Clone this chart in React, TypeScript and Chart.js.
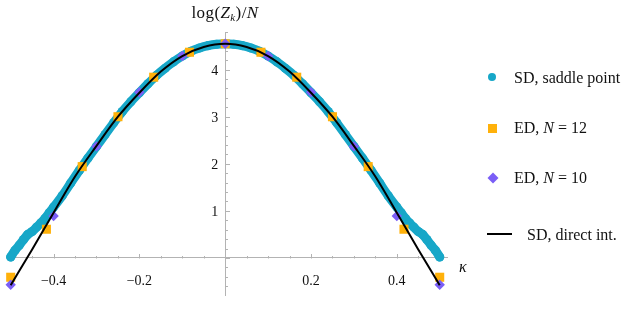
import React, { useEffect, useRef } from "react";
import { Chart, registerables } from "chart.js";

Chart.register(...registerables);

// ---- data ----
const SD_SADDLE_K = [
  -0.5, -0.49, -0.48, -0.47, -0.46, -0.45, -0.44, -0.43, -0.42, -0.41, -0.4,
  -0.38, -0.36, -0.34, -0.32, -0.3, -0.28, -0.26, -0.24, -0.22, -0.2, -0.18,
  -0.16, -0.14, -0.12, -0.1, -0.08, -0.06, -0.04, -0.02, 0, 0.02, 0.04, 0.06,
  0.08, 0.1, 0.12, 0.14, 0.16, 0.18, 0.2, 0.22, 0.24, 0.26, 0.28, 0.3, 0.32,
  0.34, 0.36, 0.38, 0.4, 0.41, 0.42, 0.43, 0.44, 0.45, 0.46, 0.47, 0.48, 0.49,
  0.5,
];
const SD_SADDLE_V = [
  0.02, 0.16, 0.27, 0.39, 0.5, 0.56, 0.65, 0.74, 0.84, 0.96, 1.08, 1.32, 1.59,
  1.86, 2.12, 2.37, 2.62, 2.87, 3.11, 3.32, 3.51, 3.7, 3.88, 4.03, 4.17, 4.29,
  4.39, 4.46, 4.51, 4.54, 4.55, 4.54, 4.51, 4.46, 4.39, 4.29, 4.17, 4.03, 3.88,
  3.7, 3.51, 3.32, 3.11, 2.87, 2.62, 2.37, 2.12, 1.86, 1.59, 1.32, 1.08, 0.96,
  0.84, 0.74, 0.65, 0.56, 0.5, 0.39, 0.27, 0.16, 0.02,
];

const ED12_K = [
  -0.5, -0.4167, -0.3333, -0.25, -0.1667, -0.0833, 0, 0.0833, 0.1667, 0.25,
  0.3333, 0.4167, 0.5,
];
const ED12_V = [
  -0.41, 0.61, 1.94, 3.0, 3.84, 4.37, 4.55, 4.37, 3.84, 3.0, 1.94, 0.61, -0.41,
];

const ED10_K = [-0.5, -0.4, -0.3, -0.2, -0.1, 0, 0.1, 0.2, 0.3, 0.4, 0.5];
const ED10_V = [-0.57, 0.89, 2.37, 3.52, 4.29, 4.55, 4.29, 3.52, 2.37, 0.89, -0.57];

const SD_DIRECT_K = [
  -0.5, -0.45, -0.4, -0.35, -0.3, -0.25, -0.2, -0.15, -0.1, -0.05, 0, 0.05, 0.1,
  0.15, 0.2, 0.25, 0.3, 0.35, 0.4, 0.45, 0.5,
];
const SD_DIRECT_V = [
  -0.58, 0.18, 0.96, 1.73, 2.38, 3.0, 3.51, 3.96, 4.29, 4.48, 4.55, 4.48, 4.29,
  3.96, 3.51, 3.0, 2.38, 1.73, 0.96, 0.18, -0.58,
];

const X_TICK_LABELS = [-0.4, -0.2, 0.2, 0.4];
const Y_TICK_LABELS = [1, 2, 3, 4];
const X_MINOR_STEP = 0.05;
const Y_MINOR_STEP = 0.2;

// ---- styles ----
const CYAN = "#17a7c8";
const ORANGE = "#ffb10a";
const PURPLE = "#7a5ef6";
const AXIS = "#b3b3b3";
const FONT = "'Liberation Serif', 'DejaVu Serif', serif";

const zip = (k: number[], v: number[]) => k.map((x, i) => ({ x, y: v[i] }));

const fmt = (v: number) =>
  v < 0 ? "\u2212" + Math.abs(v).toFixed(1) : v.toFixed(1);

const tickMarks = {
  id: "tickMarks",
  beforeDatasetsDraw(chart: any) {
    const { ctx } = chart;
    const xs = chart.scales.x;
    const ys = chart.scales.y;
    const x0 = Math.round(xs.getPixelForValue(0)) + 0.5;
    const y0 = Math.round(ys.getPixelForValue(0)) + 0.5;
    ctx.save();
    ctx.strokeStyle = AXIS;
    ctx.lineWidth = 1;
    ctx.beginPath();
    for (let i = -12; i <= 12; i++) {
      const v = i * X_MINOR_STEP;
      const px = Math.round(xs.getPixelForValue(v)) + 0.5;
      if (px < xs.left || px > xs.right) continue;
      const len = i % 4 === 0 ? 4.5 : 2.5;
      ctx.moveTo(px, y0);
      ctx.lineTo(px, y0 - len);
    }
    for (let i = -5; i <= 25; i++) {
      const v = i * Y_MINOR_STEP;
      const py = Math.round(ys.getPixelForValue(v)) + 0.5;
      if (py < ys.top - 0.6 || py > ys.bottom + 0.6) continue;
      const len = i % 5 === 0 ? 4.5 : 2.5;
      ctx.moveTo(x0, py);
      ctx.lineTo(x0 + len, py);
    }
    ctx.stroke();
    ctx.restore();
  },
};

export default function App() {
  const ref = useRef<HTMLCanvasElement | null>(null);

  useEffect(() => {
    if (!ref.current) return;
    const chart = new Chart(ref.current, {
      type: "scatter",
      data: {
        datasets: [
          {
            label: "SD, direct int.",
            data: zip(SD_DIRECT_K, SD_DIRECT_V),
            showLine: true,
            borderColor: "#000",
            borderWidth: 2,
            pointRadius: 0,
            cubicInterpolationMode: "monotone",
            order: 0,
          },
          {
            label: "ED, N = 10",
            data: zip(ED10_K, ED10_V),
            pointStyle: "rectRot",
            pointRadius: 5.2,
            backgroundColor: PURPLE,
            borderWidth: 0,
            order: 1,
          },
          {
            label: "ED, N = 12",
            data: zip(ED12_K, ED12_V),
            pointStyle: "rect",
            pointRadius: 6.4,
            backgroundColor: ORANGE,
            borderWidth: 0,
            order: 2,
          },
          {
            label: "SD, saddle point",
            data: zip(SD_SADDLE_K, SD_SADDLE_V),
            showLine: true,
            borderColor: CYAN,
            borderWidth: 9,
            borderCapStyle: "round",
            borderJoinStyle: "round",
            pointRadius: 4.6,
            pointBackgroundColor: CYAN,
            pointBorderWidth: 0,
            cubicInterpolationMode: "monotone",
            order: 3,
          },
        ],
      },
      options: {
        animation: false,
        responsive: false,
        maintainAspectRatio: false,
        clip: false as any,
        layout: { padding: { left: 6, right: 187, top: 32, bottom: 4 } },
        plugins: {
          legend: { display: false },
          tooltip: { enabled: false },
          title: { display: false },
        },
        scales: {
          x: {
            type: "linear",
            min: -0.51,
            max: 0.517,
            position: { y: 0 } as any,
            grid: { display: false, drawTicks: false },
            border: { display: true, color: AXIS, width: 1 },
            afterBuildTicks: (s: any) => {
              s.ticks = X_TICK_LABELS.map((v) => ({ value: v }));
            },
            ticks: {
              autoSkip: false,
              maxRotation: 0,
              padding: 7,
              color: "#111",
              font: { family: FONT, size: 14, lineHeight: "11px" },
              callback: (v: any) => ["", fmt(Number(v))],
            },
          },
          y: {
            type: "linear",
            min: -0.8,
            max: 4.8,
            position: { x: 0 } as any,
            grid: { display: false, drawTicks: false },
            border: { display: true, color: AXIS, width: 1 },
            afterBuildTicks: (s: any) => {
              s.ticks = Y_TICK_LABELS.map((v) => ({ value: v }));
            },
            ticks: {
              autoSkip: false,
              padding: 6,
              labelOffset: 1.5,
              color: "#111",
              font: { family: FONT, size: 14 },
              callback: (v: any) => String(v) + "  ",
            },
          },
        },
      },
      plugins: [tickMarks],
    });
    return () => chart.destroy();
  }, []);

  const legendText: React.CSSProperties = {
    position: "absolute",
    fontFamily: FONT,
    fontSize: 16,
    lineHeight: "20px",
    color: "#111",
    whiteSpace: "nowrap",
  };

  return (
    <div
      style={{
        position: "fixed",
        left: 0,
        top: 0,
        width: 634,
        height: 310,
        background: "#fff",
        overflow: "hidden",
      }}
    >
      <canvas ref={ref} width={634} height={310} style={{ display: "block" }} />

      {/* axis titles */}
      <div
        style={{
          position: "absolute",
          left: 0,
          width: 450,
          top: 3,
          textAlign: "center",
          fontFamily: FONT,
          fontSize: 17,
          letterSpacing: "0.4px",
          lineHeight: "20px",
          color: "#111",
        }}
      >
        log(<i>Z</i>
        <sub style={{ fontSize: 11, fontStyle: "italic", verticalAlign: "-3px" }}>k</sub>)/<i>N</i>
      </div>
      <div
        style={{
          position: "absolute",
          left: 459,
          top: 257,
          fontFamily: FONT,
          fontSize: 16,
          lineHeight: "20px",
          fontStyle: "italic",
          color: "#111",
        }}
      >
        κ
      </div>

      {/* legend */}
      <div
        style={{
          position: "absolute",
          left: 488,
          top: 73,
          width: 8,
          height: 8,
          borderRadius: "50%",
          background: CYAN,
        }}
      />
      <div style={{ ...legendText, left: 514, top: 68 }}>SD, saddle point</div>

      <div
        style={{
          position: "absolute",
          left: 488,
          top: 124,
          width: 9,
          height: 9,
          background: ORANGE,
        }}
      />
      <div style={{ ...legendText, left: 514, top: 118 }}>
        ED, <i>N</i> = 12
      </div>

      <svg
        width={12}
        height={12}
        style={{ position: "absolute", left: 487, top: 172 }}
      >
        <polygon points="6,0.5 11.5,6 6,11.5 0.5,6" fill={PURPLE} />
      </svg>
      <div style={{ ...legendText, left: 514, top: 168 }}>
        ED, <i>N</i> = 10
      </div>

      <div
        style={{
          position: "absolute",
          left: 487,
          top: 233,
          width: 25,
          height: 2,
          background: "#000",
        }}
      />
      <div style={{ ...legendText, left: 527, top: 225 }}>SD, direct int.</div>
    </div>
  );
}
